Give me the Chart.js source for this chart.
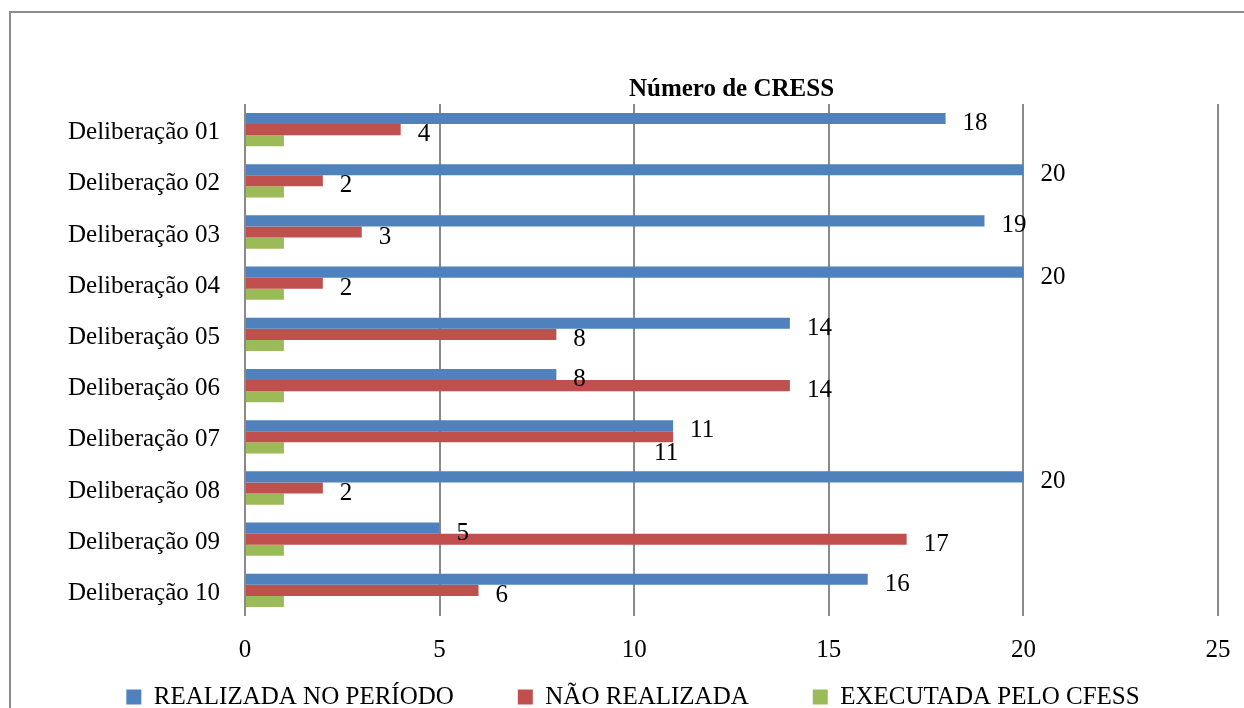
<!DOCTYPE html>
<html>
<head>
<meta charset="utf-8">
<script src="https://cdn.jsdelivr.net/npm/chart.js@4.4.1/dist/chart.umd.min.js"></script>
<style>
  html, body { margin: 0; padding: 0; background: #ffffff; overflow: hidden; }
  #wrap { position: relative; width: 1244px; height: 708px; overflow: hidden; }
  #frame { position: absolute; left: 9px; top: 11px; width: 1400px; height: 900px;
           border: 2px solid #8c8c8c; box-sizing: border-box; }
  #c { position: absolute; left: 0; top: 0; }
</style>
</head>
<body>
<div id="wrap">
  <div id="frame"></div>
  <canvas id="c" width="1244" height="708"></canvas>
</div>
<script>
// ---- data ----
const categories = [
  'Deliberação 01', 'Deliberação 02', 'Deliberação 03', 'Deliberação 04', 'Deliberação 05',
  'Deliberação 06', 'Deliberação 07', 'Deliberação 08', 'Deliberação 09', 'Deliberação 10'
];
const realizadaNoPeriodo = [18, 20, 19, 20, 14, 8, 11, 20, 5, 16];
const naoRealizada       = [4, 2, 3, 2, 8, 14, 11, 2, 17, 6];
const executadaPeloCfess = [1, 1, 1, 1, 1, 1, 1, 1, 1, 1];
const seriesNames = ['REALIZADA NO PERÍODO', 'NÃO REALIZADA', 'EXECUTADA PELO CFESS'];
const xTickValues = [0, 5, 10, 15, 20, 25];
const chartTitle = 'Número de CRESS';

// ---- style ----
const FONT_FAMILY = "'Liberation Serif', 'Times New Roman', serif";
const FONT_SIZE = 25;
const colors = ['#4F81BD', '#C0504D', '#9BBB59'];
const gridColor = '#8a8a8a';

Chart.defaults.font.family = FONT_FAMILY;
Chart.defaults.font.size = FONT_SIZE;
Chart.defaults.color = '#000000';

// let the x tick labels extend below the (thin) x scale box without being clipped
const labelAreaPlugin = {
  id: 'labelArea',
  afterLayout(chart) {
    chart.scales.x.bottom = chart.height;
  }
};

const titlePlugin = {
  id: 'plotTitle',
  afterDraw(chart) {
    const { ctx, chartArea } = chart;
    ctx.save();
    ctx.font = 'bold ' + FONT_SIZE + 'px ' + FONT_FAMILY;
    ctx.fillStyle = '#000000';
    ctx.textAlign = 'center';
    ctx.textBaseline = 'alphabetic';
    ctx.fillText(chartTitle, (chartArea.left + chartArea.right) / 2, chartArea.top - 8);
    ctx.restore();
  }
};

const valueLabelPlugin = {
  id: 'valueLabels',
  afterDatasetsDraw(chart) {
    const ctx = chart.ctx;
    ctx.save();
    ctx.font = FONT_SIZE + 'px ' + FONT_FAMILY;
    ctx.fillStyle = '#000000';
    ctx.textBaseline = 'middle';
    ctx.textAlign = 'left';
    const placed = [];
    [0, 1].forEach(di => {
      const meta = chart.getDatasetMeta(di);
      const values = chart.data.datasets[di].data;
      meta.data.forEach((bar, i) => {
        const text = String(values[i]);
        const w = ctx.measureText(text).width;
        let x = bar.x + 17;
        let y = bar.y + 5;
        let box = { l: x, r: x + w, t: y - 9, b: y + 9 };
        const hit = placed.some(p => p.l < box.r && box.l < p.r && p.t < box.b && box.t < p.b);
        if (hit) {
          x = bar.x - 7 - w / 2;
          y = bar.y + 17;
          box = { l: x, r: x + w, t: y - 9, b: y + 9 };
        }
        ctx.fillText(text, x, y);
        placed.push(box);
      });
    });
    ctx.restore();
  }
};

new Chart(document.getElementById('c'), {
  type: 'bar',
  data: {
    labels: categories,
    datasets: [
      { label: seriesNames[0], data: realizadaNoPeriodo, backgroundColor: colors[0] },
      { label: seriesNames[1], data: naoRealizada, backgroundColor: colors[1] },
      { label: seriesNames[2], data: executadaPeloCfess, backgroundColor: colors[2] }
    ]
  },
  options: {
    indexAxis: 'y',
    responsive: false,
    animation: false,
    devicePixelRatio: 1,
    datasets: { bar: { barPercentage: 1.0, categoryPercentage: 0.65, borderWidth: 0 } },
    layout: { padding: { left: 48, right: 26, top: 104, bottom: -11.5 } },
    scales: {
      x: {
        type: 'linear', position: 'bottom', min: 0, max: 25,
        afterBuildTicks: s => { s.ticks = xTickValues.map(v => ({ value: v })); },
        afterFit: s => { s.height = 4.5; },
        grid: { color: gridColor, lineWidth: 2, drawTicks: true, tickLength: 19, tickColor: 'rgba(0,0,0,0)' },
        border: { display: false },
        ticks: { padding: 0, color: '#000000' }
      },
      y: {
        type: 'category',
        afterFit: s => { s.width = 197; },
        grid: { display: false, drawTicks: false },
        border: { display: false },
        ticks: { padding: 25, color: '#000000', labelOffset: 3 }
      }
    },
    plugins: {
      title: { display: false },
      tooltip: { enabled: false },
      legend: {
        display: true, position: 'bottom',
        labels: { boxWidth: 15, boxHeight: 15, padding: 64, color: '#000000' }
      }
    }
  },
  plugins: [labelAreaPlugin, titlePlugin, valueLabelPlugin]
});
</script>
</body>
</html>
